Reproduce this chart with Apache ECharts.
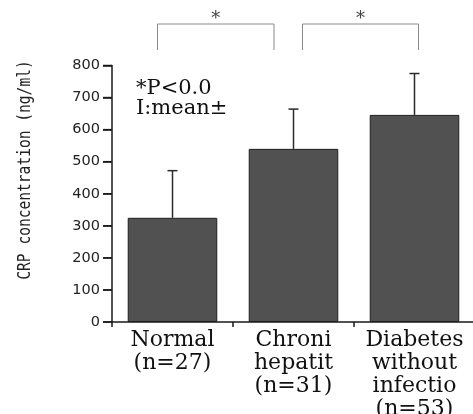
<!DOCTYPE html>
<html>
<head>
<meta charset="utf-8">
<script src="https://cdn.jsdelivr.net/npm/echarts@6/dist/echarts.min.js"></script>
<style>
  html, body { margin: 0; padding: 0; background: #fff; }
  #chart { width: 473px; height: 414px; }
</style>
</head>
<body>
<div id="chart"></div>
<script>
// Group labels (with sample sizes)
const categories = ['Normal\n(n=27)', 'Chroni\nhepatit\n(n=31)', 'Diabetes\nwithout\ninfectio\n(n=53)'];
// Mean CRP (ng/ml) and standard deviation per group
const means = [325, 540, 646];
const sds = [147, 124, 129];
// Y-axis ticks
const yTicks = [0, 100, 200, 300, 400, 500, 600, 700, 800];
// Significance comparisons: pairs of group indices
const comparisons = [[0, 1], [1, 2]];
const yTitle = 'CRP concentration (ng/ml)';

const chart = echarts.init(document.getElementById('chart'), null, { renderer: 'canvas' });

const serif = 'DejaVu Serif';
const axisColor = '#1a1a1a';

chart.setOption({
  animation: false,
  backgroundColor: '#fff',
  grid: { left: 112, right: -2, top: 65.5, bottom: 92, outerBoundsMode: 'none', containLabel: false },
  xAxis: {
    type: 'category',
    data: categories,
    axisLine: { lineStyle: { color: axisColor, width: 1.5 } },
    axisTick: { show: true, length: 5, lineStyle: { color: axisColor, width: 1.5 } },
    axisLabel: {
      interval: 0, margin: 7,
      fontFamily: serif, fontSize: 22, lineHeight: 23, color: '#111'
    }
  },
  yAxis: {
    type: 'value',
    min: yTicks[0], max: yTicks[yTicks.length - 1], interval: 100,
    axisLine: { show: true, lineStyle: { color: axisColor, width: 1.5 } },
    axisTick: { show: true, length: 9, lineStyle: { color: axisColor, width: 1.5 } },
    axisLabel: { margin: 12, fontFamily: 'DejaVu Sans', fontSize: 14.5, color: '#222' },
    splitLine: { show: false }
  },
  graphic: [
    {
      // y-axis title: tall, narrow monospace lettering
      type: 'text',
      x: 25, y: 170,
      rotation: Math.PI / 2,
      scaleX: 0.81,
      style: {
        text: yTitle,
        font: '18px "DejaVu Sans Mono"',
        fill: '#222',
        align: 'center',
        verticalAlign: 'middle'
      }
    },
    {
      type: 'text',
      left: 136, top: 78,
      style: {
        text: '*P<0.0\nI:mean±',
        font: '21px "DejaVu Serif"',
        lineHeight: 20.5,
        fill: '#111'
      }
    }
  ],
  series: [
    {
      type: 'bar',
      data: means,
      barWidth: '74%',
      itemStyle: { color: '#515151', borderColor: '#1e1e1e', borderWidth: 1 }
    },
    {
      // upper error bars (mean + SD)
      type: 'custom',
      data: means.map((m, i) => [i, m, m + sds[i]]),
      renderItem: function (params, api) {
        const base = api.coord([api.value(0), api.value(1)]);
        const top = api.coord([api.value(0), api.value(2)]);
        const half = 5;
        return {
          type: 'group',
          children: [
            { type: 'line', shape: { x1: base[0], y1: base[1], x2: top[0], y2: top[1] },
              style: { stroke: '#2a2a2a', lineWidth: 1.5 } },
            { type: 'line', shape: { x1: top[0] - half, y1: top[1], x2: top[0] + half, y2: top[1] },
              style: { stroke: '#2a2a2a', lineWidth: 1.5 } }
          ]
        };
      },
      clip: false,
      z: 5
    },
    {
      // outward tick marks on the value axis
      type: 'custom',
      data: yTicks.map(v => [0, v]),
      renderItem: function (params, api) {
        const p = api.coord([0, api.value(1)]);
        const x0 = params.coordSys.x;
        return { type: 'line', shape: { x1: x0 - 9, y1: p[1], x2: x0, y2: p[1] },
                 style: { stroke: axisColor, lineWidth: 1.5 } };
      },
      clip: false,
      silent: true
    },
    {
      // significance brackets drawn above the plot area
      type: 'custom',
      data: comparisons,
      renderItem: function (params, api) {
        const a = api.coord([api.value(0), 0]);
        const b = api.coord([api.value(1), 0]);
        const gridTop = params.coordSys.y;
        const offs = params.dataIndex === 0 ? [-15, -19.5] : [9, 4];
        const x1 = a[0] + offs[0], x2 = b[0] + offs[1];
        const yTop = gridTop - 41.5, yBot = gridTop - 15.5;
        const stroke = { stroke: '#8a8a8a', lineWidth: 1 };
        return {
          type: 'group',
          children: [
            { type: 'polyline', shape: { points: [[x1, yBot], [x1, yTop], [x2, yTop], [x2, yBot]] }, style: Object.assign({ fill: null }, stroke) },
            { type: 'text', x: (x1 + x2) / 2, y: gridTop - 46.5,
              style: { text: '*', font: '18px "DejaVu Serif"', fill: '#444', align: 'center', verticalAlign: 'middle' } }
          ]
        };
      },
      clip: false,
      silent: true
    }
  ]
});
</script>
</body>
</html>
